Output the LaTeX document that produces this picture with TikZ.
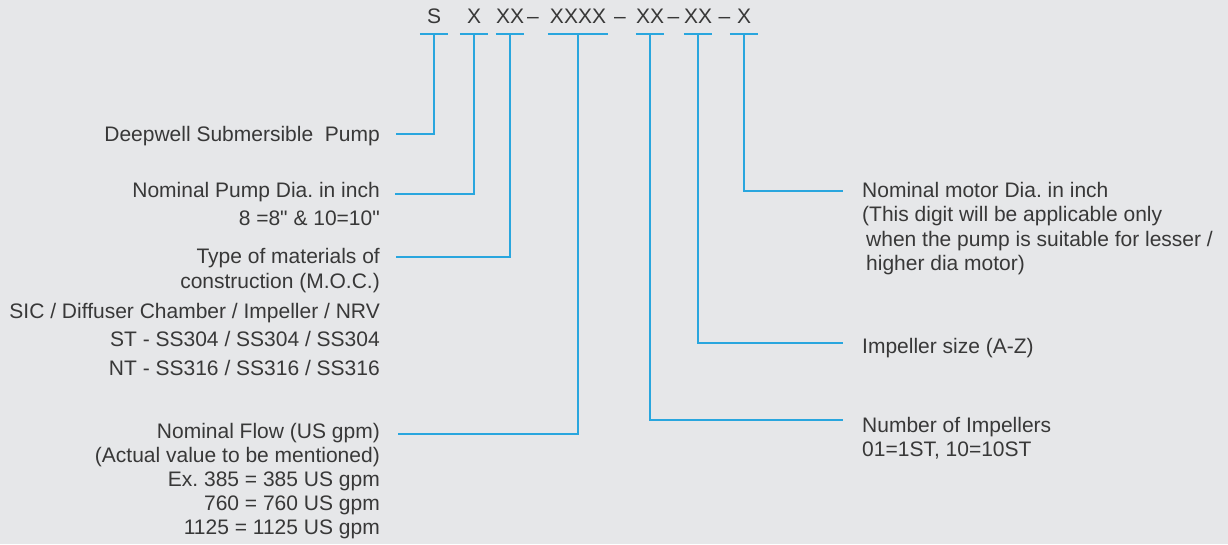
\documentclass[tikz,border=0pt]{standalone}
\usepackage{fontspec}
\setmainfont{Liberation Sans}
\usepackage{tikz}
\definecolor{bgcol}{HTML}{E6E7E9}
\definecolor{linecol}{HTML}{29A6DE}
\definecolor{inkcol}{HTML}{383838}
\newcommand{\lblfont}[1]{\fontsize{21}{#1}\selectfont\frenchspacing}
\newcommand{\inchq}{\textquotedbl}
\tikzset{
  lead/.style={draw=linecol, line width=1.5pt},
  code/.style={text=inkcol, font={\lblfont{25}}, inner sep=0pt, anchor=base,
    minimum width=28pt, text height=15pt, text depth=10.5pt},
  sep/.style={text=inkcol, font={\lblfont{25}}, inner sep=0pt, anchor=base},
  lbl/.style={text=inkcol, font={\lblfont{25}}, inner sep=0pt, align=right, anchor=base east},
  lbr/.style={text=inkcol, font={\lblfont{25}}, inner sep=0pt, align=left, anchor=base west},
}

\begin{document}
\begin{tikzpicture}[x=1pt, y=-1pt]

    \fill[bgcol] (0,0) rectangle (1228,544);

    % the code
    \node[code] (cS) at (434,23.5) {S};
    \node[code] (cX) at (474,23.5) {X};
    \node[code] (cXX) at (510,23.5) {XX};
    \node[code, minimum width=60pt] (cXXXX) at (578,23.5) {XXXX};
    \node[code] (cNo) at (650,23.5) {XX};
    \node[code] (cSz) at (698,23.5) {XX};
    \node[code] (cMo) at (744,23.5) {X};

    \node[sep] (d1) at (533,23.5) {–};
    \node[sep] (d2) at (620,23.5) {–};
    \node[sep] (d3) at (673.5,23.5) {–};
    \node[sep] (d4) at (724.5,23.5) {–};

    \foreach \c in {cS,cX,cXX,cXXXX,cNo,cSz,cMo}
      \draw[lead] (\c.south west) -- (\c.south east);

    % left side (multi-line nodes sit on their last line)
    \node[lbl] (dsp) at (380,141) {Deepwell Submersible\ \ Pump};
    \node[lbl, font={\lblfont{28}}] (dia) at (380,225)
      {Nominal Pump Dia.\ in inch\\8 =8\inchq{} \& 10=10\inchq};
    \node[lbl] (moc) at (380,375)
      {Type of materials of\\construction (M.O.C.)\\[5pt]
       SIC / Diffuser Chamber / Impeller / NRV\\[3pt]
       ST - SS304 / SS304 / SS304\\[4pt]
       NT - SS316 / SS316 / SS316};
    \node[lbl, font={\lblfont{24}}] (flow) at (380,534)
      {Nominal Flow (US gpm)\\(Actual value to be mentioned)\\Ex.\ 385 = 385 US gpm\\
       760 = 760 US gpm\\1125 = 1125 US gpm};

    % right side
    \node[lbr, font={\lblfont{24.5}}] (mot) at (862,270.5)
      {Nominal motor Dia.\ in inch\\(This digit will be applicable only\\
       \hspace*{4pt}when the pump is suitable for lesser /\\\hspace*{4pt}higher dia motor)};
    \node[lbr] (size) at (862,353) {Impeller size (A-Z)};
    \node[lbr, font={\lblfont{24}}] (num) at (862,456) {Number of Impellers\\01=1ST, 10=10ST};

    % leaders
    \draw[lead] (cS.south) |- ([xshift=16pt,yshift=7pt]dsp.base east);
    \draw[lead] (cX.south) |- ([xshift=15pt,yshift=31pt]dia.base east);
    \draw[lead] (cXX.south) |- ([xshift=16pt,yshift=118pt]moc.base east);
    \draw[lead] (cXXXX.south) |- ([xshift=18pt,yshift=100pt]flow.base east);
    \draw[lead] (cNo.south) |- ([xshift=-19pt,yshift=36pt]num.base west);
    \draw[lead] (cSz.south) |- ([xshift=-19pt,yshift=10pt]size.base west);
    \draw[lead] (cMo.south) |- ([xshift=-19pt,yshift=79.5pt]mot.base west);

\end{tikzpicture}
\end{document}
